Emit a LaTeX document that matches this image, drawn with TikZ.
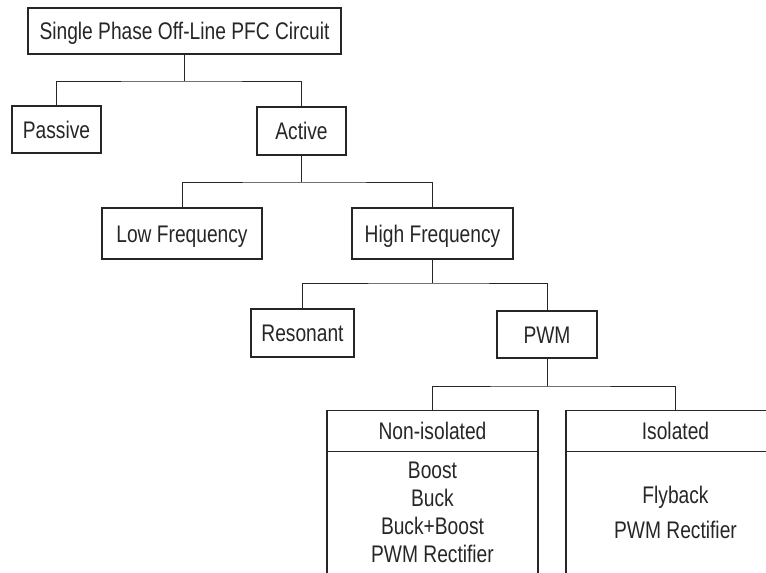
\documentclass[tikz,border=0pt]{standalone}
\usepackage{fontspec}
\setmainfont[FakeStretch=0.8]{Liberation Sans}
\usetikzlibrary{positioning}

\begin{document}
\begin{tikzpicture}[x=1pt,y=-1pt,
    box/.style={draw=black!85,line width=1.1pt,inner sep=0pt,outer sep=0pt,
      text height=17.5pt,text depth=0pt,text=black!85,
      font=\fontsize{24}{28}\selectfont},
    list/.style={draw=black!85,line width=1.1pt,inner sep=0pt,outer sep=0pt,
      align=center,text=black!85,font=\fontsize{24}{28}\selectfont},
    link/.style={draw=black!85,line width=1pt}]
  \useasboundingbox (0,0) rectangle (766,573);
  \clip (0,0) rectangle (766,573);

  \node[box,minimum width=313pt,minimum height=46pt] (PFC) at (184.5,31) {Single Phase Off-Line PFC Circuit};
  \node[box,minimum width=89pt,minimum height=47pt] (Passive) at (56.5,129.5) {Passive};
  \node[box,minimum width=89pt,minimum height=48pt] (Active) at (301.5,131) {Active};
  \node[box,minimum width=160pt,minimum height=51pt] (LowF) at (182,233.5) {Low Frequency};
  \node[box,minimum width=161pt,minimum height=51pt] (HighF) at (432.5,233.5) {High Frequency};
  \node[box,minimum width=103pt,minimum height=48pt] (Reson) at (302.5,333) {Resonant};
  \node[box,minimum width=100pt,minimum height=47pt] (PWM) at (547,334.5) {PWM};
  \node[box,minimum width=211pt,minimum height=41pt] (NonIso) at (432.5,431) {Non-isolated};
  \node[box,minimum width=219pt,minimum height=41pt] (Iso) at (675.5,431) {Isolated};
  \node[list,minimum width=211pt,minimum height=122pt,below=0pt of NonIso] (NonIsoList)
    {Boost\\Buck\\Buck+Boost\\PWM Rectifier};
  \node[list,minimum width=219pt,minimum height=122pt,below=0pt of Iso] (IsoList)
    {Flyback\\[7pt]PWM Rectifier};

  \draw[link] (PFC.south) -- ++(0,27) coordinate (bus1);
  \draw[link] (Passive.north) |- (bus1) -| (Active.north);
  \draw[link] (Active.south) -- ++(0,27) coordinate (bus2);
  \draw[link] (LowF.north) |- (bus2) -| (HighF.north);
  \draw[link] (HighF.south) -- ++(0,24) coordinate (bus3);
  \draw[link] (Reson.north) |- (bus3) -| (PWM.north);
  \draw[link] (PWM.south) -- ++(0,28) coordinate (bus4);
  \draw[link] (NonIso.north) |- (bus4) -| (Iso.north);
\end{tikzpicture}
\end{document}
